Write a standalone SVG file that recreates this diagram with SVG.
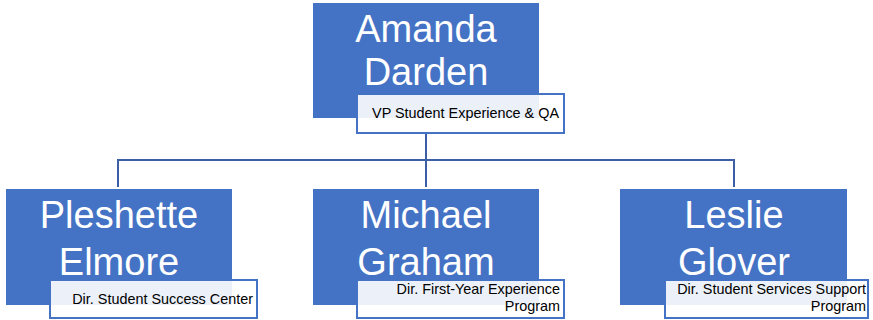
<svg xmlns="http://www.w3.org/2000/svg" width="873" height="320" viewBox="0 0 873 320">
<style>
.box{fill:#4472c4;}
.tbox{fill:#ffffff;fill-opacity:0.9;stroke:#4472c4;stroke-width:2;}
.name{font-family:"Liberation Sans",Arial,sans-serif;font-size:38px;fill:#ffffff;text-anchor:middle;}
.title{font-family:"Liberation Sans",Arial,sans-serif;font-size:14.4px;fill:#000000;text-anchor:end;}
.conn{stroke:#3b5ea6;stroke-width:2;fill:none;}
</style>
<rect width="873" height="320" fill="#ffffff"/>
<g id="connectors">
<path class="conn" d="M426 133 V187"/>
<path class="conn" d="M118 187 V160 H734 V187"/>
</g>
<g id="node-amanda">
<rect class="box" x="313" y="3" width="226" height="115"/>
<text class="name" x="426" y="42">Amanda</text>
<text class="name" x="426" y="85">Darden</text>
<rect class="tbox" x="357" y="94" width="207" height="39"/>
<text class="title" x="559" y="118">VP Student Experience &amp; QA</text>
</g>
<g id="node-pleshette">
<rect class="box" x="6" y="189" width="226" height="116"/>
<text class="name" x="119" y="228">Pleshette</text>
<text class="name" x="119" y="275">Elmore</text>
<rect class="tbox" x="50" y="280" width="207" height="38"/>
<text class="title" x="253" y="304">Dir. Student Success Center</text>
</g>
<g id="node-michael">
<rect class="box" x="313" y="189" width="226" height="116"/>
<text class="name" x="426" y="228">Michael</text>
<text class="name" x="426" y="275">Graham</text>
<rect class="tbox" x="357" y="280" width="207" height="38"/>
<text class="title" x="560" y="294">Dir. First-Year Experience</text>
<text class="title" x="560" y="310.5">Program</text>
</g>
<g id="node-leslie">
<rect class="box" x="620" y="189" width="227" height="116"/>
<text class="name" x="734" y="228">Leslie</text>
<text class="name" x="734" y="275">Glover</text>
<rect class="tbox" x="665" y="280" width="203" height="38"/>
<text class="title" x="866" y="294">Dir. Student Services Support</text>
<text class="title" x="866" y="310.5">Program</text>
</g>
</svg>
